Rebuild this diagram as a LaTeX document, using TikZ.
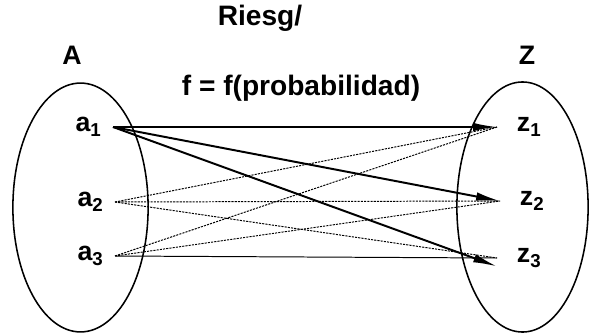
\documentclass[tikz,border=0pt]{standalone}
\usepackage{fontspec}
\setmainfont{Liberation Sans}
\usetikzlibrary{arrows.meta, shapes.geometric}

\begin{document}
\begin{tikzpicture}[
    x=0.025cm, y=-0.025cm,
    set/.style={ellipse, draw=black, line width=1.1pt, inner sep=0pt},
    title/.style={font=\bfseries\fontsize{20}{23}\selectfont},
    setname/.style={font=\bfseries\fontsize{19}{22}\selectfont},
    elem/.style={font=\bfseries\fontsize{19}{22}\selectfont, inner ysep=2pt},
    strong/.style={-{Latex[length=17pt, width=6pt]}, line width=1.4pt},
    weak/.style={line width=0.7pt, dash pattern=on 1.5pt off 0.8pt},
    plain/.style={line width=0.7pt} ]

    \useasboundingbox (0,0) rectangle (590,334);

    % The two sets
    \node[set, minimum width=3.38cm, minimum height=6.22cm] (setA) at (80.5,207.5) {};
    \node[set, minimum width=3.28cm, minimum height=6.25cm] (setZ) at (522.5,207) {};
    \node[setname] (nameA) at (72,55) {A};
    \node[setname] (nameZ) at (527,55) {Z};

    % Titles
    \node[title] (riesgo) at (260,18) {Riesg/};
    \node[title] (func) at (301,88) {f = f(probabilidad)};

    % Elements of A
    \node[elem, anchor=east, inner xsep=8pt] (a1) at (113,127) {a\textsubscript{1}};
    \node[elem, anchor=east, inner xsep=8pt] (a2) at (115,202) {a\textsubscript{2}};
    \node[elem, anchor=east, inner xsep=8pt] (a3) at (115,256) {a\textsubscript{3}};

    % Elements of Z
    \node[elem, anchor=west, inner xsep=14pt] (z1) at (497,127) {z\textsubscript{1}};
    \node[elem, anchor=west, inner xsep=14pt] (z2) at (500,201) {z\textsubscript{2}};
    \node[elem, anchor=west, inner xsep=14pt] (z3) at (497,258) {z\textsubscript{3}};

    % Links
    \draw[strong] (a1.east) -- (z1.west);
    \draw[strong] (a1.east) -- (z2.west);
    \draw[strong] (a1.east) -- ([yshift=-6pt]z3.west);
    \draw[weak] (a2.east) -- (z1.west);
    \draw[weak] (a2.east) -- (z2.west);
    \draw[weak] (a2.east) -- (z3.west);
    \draw[weak] (a3.east) -- (z1.west);
    \draw[weak] (a3.east) -- (z2.west);
    \draw[plain] (a3.east) -- (z3.west);

\end{tikzpicture}
\end{document}
